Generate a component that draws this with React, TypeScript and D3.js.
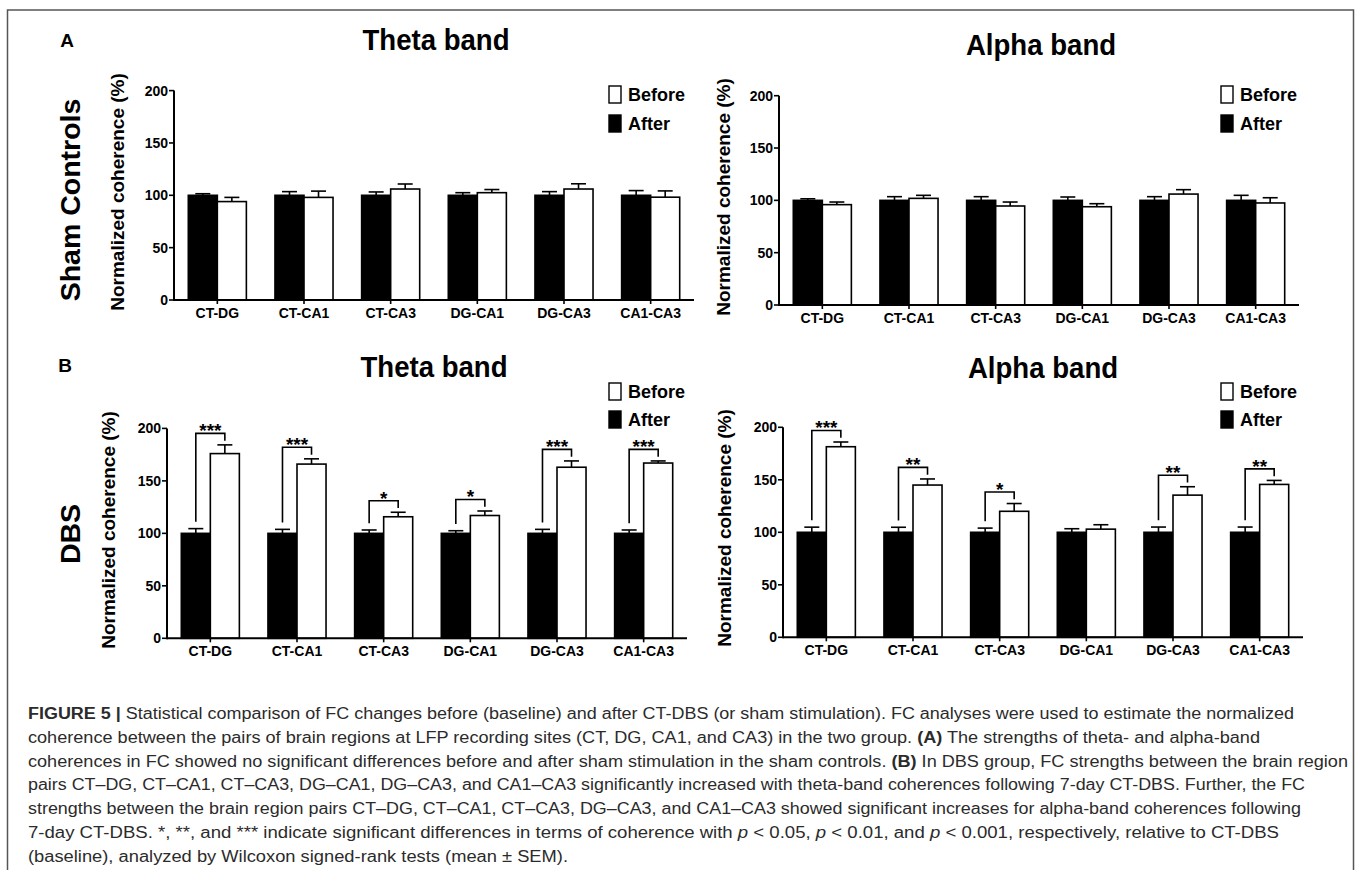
import React from 'react';
import * as d3 from 'd3';

const categories = ['CT-DG', 'CT-CA1', 'CT-CA3', 'DG-CA1', 'DG-CA3', 'CA1-CA3'];
const yTicks = [0, 50, 100, 150, 200];
const seriesNames = ['After', 'Before'];

// Sham controls – theta band
const shamThetaAfter = [100, 100, 100, 100, 100, 100];
const shamThetaAfterErr = [1.5, 3.5, 3.2, 2.5, 3.5, 4.5];
const shamThetaBefore = [94, 98, 106, 102.5, 106, 98.2];
const shamThetaBeforeErr = [4, 6, 4.8, 3, 5, 6];

// Sham controls – alpha band
const shamAlphaAfter = [100, 100, 100, 100, 100, 100];
const shamAlphaAfterErr = [1.5, 3.5, 3.5, 3.2, 3.5, 4.8];
const shamAlphaBefore = [95.9, 101.9, 94.6, 93.9, 106, 97.5];
const shamAlphaBeforeErr = [2.5, 2.9, 3.8, 2.9, 4.2, 5];

// DBS – theta band
const dbsThetaAfter = [100, 100, 100, 100, 100, 100];
const dbsThetaAfterErr = [4.5, 3.8, 3.2, 2.5, 3.8, 3.2];
const dbsThetaBefore = [176, 166, 115.8, 117, 163, 167];
const dbsThetaBeforeErr = [8.3, 5, 4.3, 4.3, 6, 2];
const dbsThetaSig = ['***', '***', '*', '*', '***', '***'];

// DBS – alpha band
const dbsAlphaAfter = [100, 100, 100, 100, 100, 100];
const dbsAlphaAfterErr = [4.9, 4.8, 4, 3.4, 5, 5];
const dbsAlphaBefore = [181.5, 145, 120, 103, 135.4, 145.6];
const dbsAlphaBeforeErr = [4.5, 5.8, 7.4, 4.2, 8, 3.8];
const dbsAlphaSig = ['***', '**', '*', '', '**', '**'];

const noSig = ['', '', '', '', '', ''];

const FONT = "'Liberation Sans', Arial, Helvetica, sans-serif";

type PanelProps = {
  x0: number; x1: number; yZero: number; yTop: number;
  title: string; titleX: number; titleY: number;
  legendX: number; legendY1: number; legendY2: number;
  after: number[]; afterErr: number[]; before: number[]; beforeErr: number[];
  sig: string[];
  ylabX: number; ylabY: number;
};

function Panel(p: PanelProps) {
  const x = d3.scaleBand<string>().domain(categories).range([p.x0, p.x1]).paddingInner(0.33).paddingOuter(0.165);
  const sub = d3.scaleBand<string>().domain(seriesNames).range([0, x.bandwidth()]);
  const y = d3.scaleLinear().domain([0, 200]).range([p.yZero, p.yTop]);
  const bw = sub.bandwidth();
  const cap = 7.5;

  const series = [
    { name: 'After', vals: p.after, errs: p.afterErr, fill: '#000' },
    { name: 'Before', vals: p.before, errs: p.beforeErr, fill: '#fff' },
  ];

  return (
    <g fontFamily={FONT}>
      <text transform={`translate(${p.titleX},${p.titleY}) scale(0.92,1)`} textAnchor="middle" fontSize={30} fontWeight="bold">{p.title}</text>
      <text transform={`translate(${p.ylabX},${p.ylabY}) rotate(-90)`} textAnchor="middle" fontSize={19} fontWeight="bold">Normalized coherence (%)</text>
      {categories.map((c, i) => (
        <g key={c}>
          {series.map((s) => {
            const bx = (x(c) as number) + (sub(s.name) as number);
            const top = y(s.vals[i]);
            const et = y(s.vals[i] + s.errs[i]);
            const cx = bx + bw / 2;
            return (
              <g key={s.name}>
                <line x1={cx} x2={cx} y1={top} y2={et} stroke="#000" strokeWidth={1.6} />
                <line x1={cx - cap} x2={cx + cap} y1={et} y2={et} stroke="#000" strokeWidth={1.6} />
                <rect x={bx} y={top} width={bw} height={p.yZero - top} fill={s.fill} stroke="#000" strokeWidth={1.6} />
              </g>
            );
          })}
          {p.sig[i] ? (() => {
            const lx = (x(c) as number) + (sub('After') as number) + bw / 2;
            const rx = (x(c) as number) + (sub('Before') as number) + bw / 2;
            const topV = p.before[i] + p.beforeErr[i] + 11;
            const by = y(topV);
            const ly = y(p.after[i] + p.afterErr[i] + 6.5);
            const ry = y(p.before[i] + p.beforeErr[i] + 4);
            return (
              <g>
                <path d={`M${lx},${ly}V${by}H${rx}V${ry}`} fill="none" stroke="#000" strokeWidth={1.6} />
                <text x={(lx + rx) / 2} y={by + 4} textAnchor="middle" fontSize={19} fontWeight="bold">{p.sig[i]}</text>
              </g>
            );
          })() : null}
        </g>
      ))}
      <line x1={p.x0} x2={p.x0} y1={p.yZero + 1} y2={y(200)} stroke="#000" strokeWidth={2} />
      <line x1={p.x0} x2={p.x1} y1={p.yZero} y2={p.yZero} stroke="#000" strokeWidth={2} />
      {yTicks.map((t) => (
        <g key={t}>
          <line x1={p.x0 - 5} x2={p.x0} y1={y(t)} y2={y(t)} stroke="#000" strokeWidth={1.6} />
          <text x={p.x0 - 6} y={y(t) + 5} textAnchor="end" fontSize={14} fontWeight="bold">{t}</text>
        </g>
      ))}
      {categories.map((c) => {
        const cx = (x(c) as number) + x.bandwidth() / 2;
        return (
          <g key={c}>
            <line x1={cx} x2={cx} y1={p.yZero} y2={p.yZero + 4} stroke="#000" strokeWidth={1.6} />
            <text x={cx} y={p.yZero + 18} textAnchor="middle" fontSize={14} fontWeight="bold">{c}</text>
          </g>
        );
      })}
      <rect x={p.legendX} y={p.legendY1} width={12} height={17} fill="#fff" stroke="#000" strokeWidth={1.4} />
      <text x={p.legendX + 19} y={p.legendY1 + 15} fontSize={18} fontWeight="bold">Before</text>
      <rect x={p.legendX} y={p.legendY2} width={12} height={17} fill="#000" stroke="#000" strokeWidth={1.4} />
      <text x={p.legendX + 19} y={p.legendY2 + 15} fontSize={18} fontWeight="bold">After</text>
    </g>
  );
}

const captionLines: { parts: { t: string; b?: boolean; i?: boolean }[]; end: number }[] = [
  { parts: [{ t: 'FIGURE 5 |', b: true }, { t: ' Statistical comparison of FC changes before (baseline) and after CT-DBS (or sham stimulation). FC analyses were used to estimate the normalized' }], end: 1294 },
  { parts: [{ t: 'coherence between the pairs of brain regions at LFP recording sites (CT, DG, CA1, and CA3) in the two group. ' }, { t: '(A)', b: true }, { t: ' The strengths of theta- and alpha-band' }], end: 1260 },
  { parts: [{ t: 'coherences in FC showed no significant differences before and after sham stimulation in the sham controls. ' }, { t: '(B)', b: true }, { t: ' In DBS group, FC strengths between the brain region' }], end: 1348 },
  { parts: [{ t: 'pairs CT–DG, CT–CA1, CT–CA3, DG–CA1, DG–CA3, and CA1–CA3 significantly increased with theta-band coherences following 7-day CT-DBS. Further, the FC' }], end: 1305 },
  { parts: [{ t: 'strengths between the brain region pairs CT–DG, CT–CA1, CT–CA3, DG–CA3, and CA1–CA3 showed significant increases for alpha-band coherences following' }], end: 1301 },
  { parts: [{ t: '7-day CT-DBS. *, **, and *** indicate significant differences in terms of coherence with ' }, { t: 'p', i: true }, { t: ' < 0.05, ' }, { t: 'p', i: true }, { t: ' < 0.01, and ' }, { t: 'p', i: true }, { t: ' < 0.001, respectively, relative to CT-DBS' }], end: 1279 },
  { parts: [{ t: '(baseline), analyzed by Wilcoxon signed-rank tests (mean ± SEM).' }], end: 568 },
];

export default function App() {
  const capX = 28;
  const capY0 = 719;
  const capDy = 23.8;
  return (
    <>
      <style>{`body{margin:0;background:#fff}`}</style>
      <svg width={1358} height={870} style={{ display: 'block' }} fontFamily={FONT}>
        <rect x={0} y={0} width={1358} height={870} fill="#fff" />
        <rect x={7.5} y={10} width={1346} height={900} fill="none" stroke="#555" strokeWidth={1.5} />
        <text x={67} y={47} textAnchor="middle" fontSize={19} fontWeight="bold">A</text>
        <text x={65} y={372} textAnchor="middle" fontSize={19} fontWeight="bold">B</text>
        <text transform="translate(80,200) rotate(-90)" textAnchor="middle" fontSize={28.5} fontWeight="bold">Sham Controls</text>
        <text transform="translate(80,534) rotate(-90)" textAnchor="middle" fontSize={28.5} fontWeight="bold">DBS</text>

        <Panel x0={174} x1={694} yZero={300} yTop={90.6} title="Theta band" titleX={436} titleY={50}
          legendX={609} legendY1={86} legendY2={115}
          after={shamThetaAfter} afterErr={shamThetaAfterErr} before={shamThetaBefore} beforeErr={shamThetaBeforeErr}
          sig={noSig} ylabX={124} ylabY={192} />
        <Panel x0={779} x1={1299} yZero={305} yTop={95.7} title="Alpha band" titleX={1041} titleY={55}
          legendX={1221} legendY1={86} legendY2={115}
          after={shamAlphaAfter} afterErr={shamAlphaAfterErr} before={shamAlphaBefore} beforeErr={shamAlphaBeforeErr}
          sig={noSig} ylabX={730} ylabY={197} />
        <Panel x0={167} x1={687} yZero={638.3} yTop={428.4} title="Theta band" titleX={434} titleY={377}
          legendX={609} legendY1={383} legendY2={411}
          after={dbsThetaAfter} afterErr={dbsThetaAfterErr} before={dbsThetaBefore} beforeErr={dbsThetaBeforeErr}
          sig={dbsThetaSig} ylabX={115} ylabY={530} />
        <Panel x0={783} x1={1303} yZero={637.3} yTop={427.3} title="Alpha band" titleX={1043} titleY={378}
          legendX={1221} legendY1={383} legendY2={411}
          after={dbsAlphaAfter} afterErr={dbsAlphaAfterErr} before={dbsAlphaBefore} beforeErr={dbsAlphaBeforeErr}
          sig={dbsAlphaSig} ylabX={731} ylabY={528} />

        <g fontSize={16} fill="#2b2b2b">
          {captionLines.map((ln, i) => (
            <text key={i} x={capX} y={capY0 + i * capDy} textLength={ln.end - capX} lengthAdjust="spacingAndGlyphs">
              {ln.parts.map((pt, j) => (
                <tspan key={j} fontWeight={pt.b ? 'bold' : 'normal'} fontStyle={pt.i ? 'italic' : 'normal'}>{pt.t}</tspan>
              ))}
            </text>
          ))}
        </g>
      </svg>
    </>
  );
}
